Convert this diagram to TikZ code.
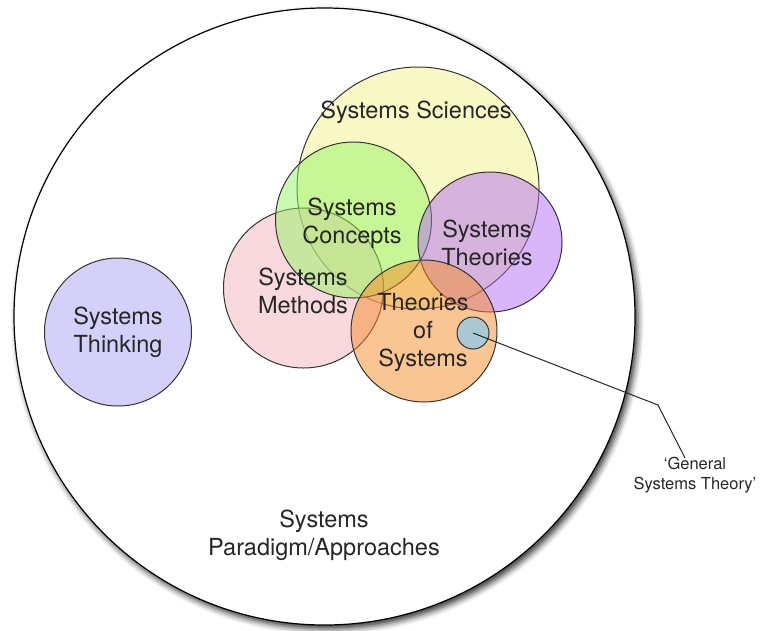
\documentclass[tikz,border=0pt]{standalone}
\usepackage{fontspec}
\setmainfont{TeX Gyre Heros}
\usetikzlibrary{shadows.blur}
\definecolor{sciencefill}{RGB}{245,245,140}
\definecolor{conceptfill}{RGB}{150,245,100}
\definecolor{theoryfill}{RGB}{180,110,245}
\definecolor{methodfill}{RGB}{245,180,190}
\definecolor{systemsfill}{RGB}{245,140,40}
\definecolor{gstfill}{RGB}{170,200,212}
\definecolor{thinkfill}{RGB}{212,208,250}
\tikzset{
  venn/.style={draw=black!80, line width=1pt, fill opacity=0.5},
  lbl/.style={align=center, font=\fontsize{23.5}{28}\selectfont, text=black!85, inner sep=0pt},
  note/.style={align=center, font=\fontsize{16.5}{20}\selectfont, text=black!85, inner sep=0pt},
}
\begin{document}
\begin{tikzpicture}[x=1pt,y=-1pt]
\useasboundingbox (0,0) rectangle (765,630);
%paradigm
\draw[line width=1.2pt,fill=white,blur shadow={shadow xshift=3pt,shadow yshift=-4pt,shadow blur radius=6pt,shadow opacity=80}]
  (324.5,316.5) ellipse (310.5pt and 308.5pt);
%
\draw[venn,fill=thinkfill,fill opacity=1] (118,332) ellipse (73.5pt and 74pt);
\draw[venn,fill=sciencefill] (418,188) circle (121pt);
\draw[venn,fill=methodfill] (303.5,288) circle (80pt);
\draw[venn,fill=conceptfill] (353.5,220) circle (78pt);
\draw[venn,fill=theoryfill] (490,242) ellipse (72pt and 70pt);
\draw[venn,fill=systemsfill] (424,331) ellipse (73pt and 71pt);
\node[draw=black!80,line width=1pt,circle,fill=gstfill,minimum size=32pt,inner sep=0pt] (gst) at (473,333) {};
%
\node[lbl] (sciences) at (416,112) {Systems Sciences};
\node[lbl] (concepts) at (352,223) {Systems\\Concepts};
\node[lbl] (theories) at (487,243) {Systems\\Theories};
\node[lbl] (methods) at (303,291) {Systems\\Methods};
\node[lbl] (ofsystems) at (423,332) {Theories\\of\\Systems};
\node[lbl] (thinking) at (118,332) {Systems\\Thinking};
\node[lbl] (paradigm) at (324,535) {Systems\\Paradigm/Approaches};
%
\coordinate (bend) at (658,405);
\coordinate (tip) at (685,458);
\draw[line width=1pt,black!85] (gst.center) -- (bend) -- (tip);
\node[note] (gstlabel) at (695,475) {`General\\Systems Theory'};
\end{tikzpicture}
\end{document}
